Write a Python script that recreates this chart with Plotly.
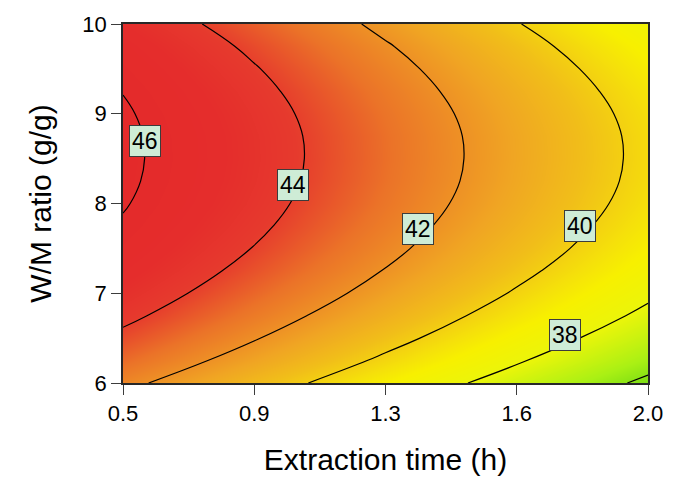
import plotly.graph_objects as go

# Extraction time (h) grid columns
time_h = [0.5, 0.875, 1.25, 1.625, 2.0]
# W/M ratio (g/g) grid rows
wm_ratio = [6.0, 6.25, 6.5, 6.75, 7.0, 7.25, 7.5, 7.75, 8.0, 8.25, 8.5,
            8.75, 9.0, 9.25, 9.5, 9.75, 10.0]
# response values (rows = wm_ratio, cols = time_h)
response = [
    [42.32, 40.68, 39.03, 37.39, 35.74],
    [43.06, 41.42, 39.77, 38.13, 36.48],
    [43.72, 42.08, 40.43, 38.79, 37.14],
    [44.30, 42.66, 41.01, 39.37, 37.72],
    [44.81, 43.17, 41.52, 39.88, 38.23],
    [45.24, 43.60, 41.95, 40.31, 38.66],
    [45.60, 43.96, 42.31, 40.67, 39.02],
    [45.88, 44.24, 42.59, 40.95, 39.30],
    [46.09, 44.45, 42.80, 41.16, 39.51],
    [46.22, 44.58, 42.93, 41.29, 39.64],
    [46.27, 44.63, 42.98, 41.34, 39.69],
    [46.25, 44.61, 42.96, 41.32, 39.67],
    [46.15, 44.51, 42.86, 41.22, 39.57],
    [45.97, 44.33, 42.68, 41.04, 39.39],
    [45.72, 44.08, 42.43, 40.79, 39.14],
    [45.40, 43.76, 42.11, 40.47, 38.82],
    [44.99, 43.35, 41.70, 40.06, 38.41],
]
x_ticks = [0.5, 0.875, 1.25, 1.625, 2.0]
x_tick_text = ["0.5", "0.9", "1.3", "1.6", "2.0"]
y_ticks = [6, 7, 8, 9, 10]
# contour labels: value, time, ratio
label_vals = [46, 44, 42, 40, 38]
label_x = [0.562, 0.986, 1.343, 1.806, 1.764]
label_y = [8.70, 8.21, 7.72, 7.75, 6.54]

zmin, zmax = 35.7, 46.3
def pos(z):
    return (z - zmin) / (zmax - zmin)

colorscale = [
    [0.0, "rgb(120,220,20)"],
    [pos(36.6), "rgb(170,240,20)"],
    [pos(38.0), "rgb(235,245,10)"],
    [pos(39.0), "rgb(247,240,0)"],
    [pos(39.5), "rgb(245,225,10)"],
    [pos(40.5), "rgb(241,190,25)"],
    [pos(41.4), "rgb(240,165,35)"],
    [pos(42.9), "rgb(235,115,40)"],
    [pos(44.1), "rgb(230,58,45)"],
    [pos(45.0), "rgb(229,45,44)"],
    [1.0, "rgb(228,42,42)"],
]

FONT = "Liberation Sans, Arial"

fig = go.Figure()
fig.add_trace(go.Heatmap(
    x=time_h, y=wm_ratio, z=response, zsmooth="best",
    colorscale=colorscale, zmin=zmin, zmax=zmax, showscale=False,
    hoverinfo="skip"))
fig.add_trace(go.Contour(
    x=time_h, y=wm_ratio, z=response,
    contours=dict(start=36, end=46, size=2, coloring="none", showlabels=False),
    line=dict(color="black", width=1.2, smoothing=1.3),
    showscale=False, hoverinfo="skip"))

for v, lx, ly in zip(label_vals, label_x, label_y):
    fig.add_annotation(x=lx, y=ly, text=str(v), showarrow=False,
                       font=dict(family=FONT, size=23, color="black"),
                       bgcolor="rgb(206,236,214)", bordercolor="rgb(60,60,60)",
                       borderwidth=1, borderpad=2)

axis_common = dict(showline=True, linecolor="rgb(40,40,40)", linewidth=1.5,
                   mirror=True, ticks="outside", ticklen=10, tickwidth=1,
                   tickcolor="rgb(60,60,60)", showgrid=False, zeroline=False,
                   tickfont=dict(family=FONT, size=22, color="black"))

fig.update_layout(
    width=675, height=483,
    margin=dict(l=123, r=18, t=22, b=96),
    paper_bgcolor="white", plot_bgcolor="white",
    xaxis=dict(range=[0.5, 2.0], tickvals=x_ticks, ticktext=x_tick_text,
               title=dict(text="Extraction time (h)", standoff=24,
                          font=dict(family=FONT, size=30, color="black")),
               **axis_common),
    yaxis=dict(range=[6, 10], tickvals=y_ticks,
               title=dict(text="W/M ratio (g/g)", standoff=22,
                          font=dict(family=FONT, size=30, color="black")),
               **axis_common),
)

fig.write_html(
    "out.html",
    config={"displayModeBar": False, "responsive": False},
    post_script=("document.body.style.margin='0';"
                 "document.body.style.overflow='hidden';"
                 "Plotly.relayout('{plot_id}', {width: 675, height: 483});"),
)
